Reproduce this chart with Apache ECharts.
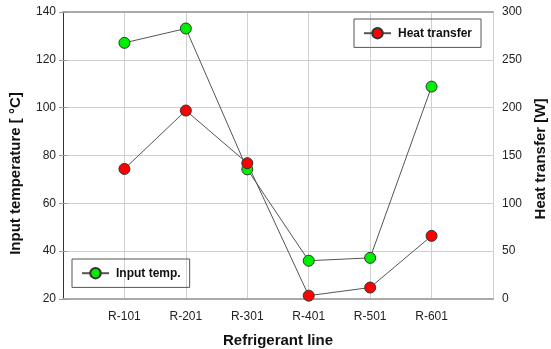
<!DOCTYPE html>
<html>
<head>
<meta charset="utf-8">
<script src="https://cdn.jsdelivr.net/npm/echarts@6/dist/echarts.min.js"></script>
<style>
  html, body { margin: 0; padding: 0; background: #fff; }
  #main { width: 551px; height: 349px; }
</style>
</head>
<body>
<div id="main"></div>
<script>
// refrigerant lines
var categories = ['R-101', 'R-201', 'R-301', 'R-401', 'R-501', 'R-601'];
// input temperature [°C], left axis
var inputTemp = [127.1, 133.1, 74.2, 36.0, 37.2, 108.8];
// heat transfer [W], right axis
var heatTransfer = [136, 197, 142, 3.5, 12, 66];

var font = 'Arial, "Liberation Sans", sans-serif';

function toPoints(vals) {
    var out = [];
    for (var i = 0; i < vals.length; i++) {
        out.push([i + 1, vals[i]]);
    }
    return out;
}

var chart = echarts.init(document.getElementById('main'));

var option = {
    animation: false,
    backgroundColor: '#fff',
    textStyle: { fontFamily: font },
    grid: { left: 63, right: 58, top: 12, bottom: 50, containLabel: false, outerBoundsMode: 'none' },
    legend: [{
        data: ['Heat transfer'],
        left: 354, top: 19,
        padding: [8, 9, 8, 9],
        borderColor: '#555', borderWidth: 1,
        itemWidth: 27, itemHeight: 13,
        textStyle: { fontFamily: font, fontSize: 12, fontWeight: 'bold', color: '#111', padding: [0, 0, 0, 2] }
    }, {
        data: ['Input temp.'],
        left: 72, top: 259,
        padding: [8, 9, 8, 9],
        borderColor: '#555', borderWidth: 1,
        itemWidth: 27, itemHeight: 13,
        textStyle: { fontFamily: font, fontSize: 12, fontWeight: 'bold', color: '#111', padding: [0, 0, 0, 2] }
    }],
    xAxis: [{
        type: 'value',
        min: 0, max: 7, interval: 1,
        position: 'bottom',
        name: 'Refrigerant line',
        nameLocation: 'middle',
        nameGap: 34,
        nameTextStyle: { fontFamily: font, fontSize: 15, fontWeight: 'bold', color: '#111' },
        axisLine: { lineStyle: { color: '#aaa', width: 2 } },
        axisTick: { show: false },
        axisLabel: {
            margin: 12, fontSize: 12, color: '#222', fontFamily: font,
            formatter: function (v) { return categories[v - 1] || ''; }
        },
        splitLine: { show: true, lineStyle: { color: '#d0d0d0', width: 1 } }
    }, {
        type: 'value',
        min: 0, max: 7, interval: 1,
        position: 'top',
        axisLine: { show: true, lineStyle: { color: '#aaa', width: 2 } },
        axisTick: { show: false },
        axisLabel: { show: false },
        splitLine: { show: false }
    }],
    yAxis: [{
        type: 'value',
        min: 20, max: 140, interval: 20,
        position: 'left',
        name: 'Input temperature [ °C]',
        nameLocation: 'middle',
        nameRotate: 90,
        nameGap: 40,
        nameTextStyle: { fontFamily: font, fontSize: 15, fontWeight: 'bold', color: '#111', padding: [0, 36, 0, 0] },
        axisLine: { show: true, lineStyle: { color: '#333', width: 1 } },
        axisTick: { show: true, length: 4, lineStyle: { color: '#999' } },
        axisLabel: { margin: 7, fontSize: 12, color: '#222', fontFamily: font },
        splitLine: { show: true, lineStyle: { color: '#d0d0d0', width: 1 } }
    }, {
        type: 'value',
        min: 0, max: 300, interval: 50,
        position: 'right',
        name: 'Heat transfer [W]',
        nameLocation: 'middle',
        nameRotate: 90,
        nameGap: 40,
        nameTextStyle: { fontFamily: font, fontSize: 15, fontWeight: 'bold', color: '#111', padding: [0, 7, 0, 0] },
        axisLine: { show: true, lineStyle: { color: '#333', width: 1 } },
        axisTick: { show: true, length: 4, lineStyle: { color: '#999' } },
        axisLabel: { margin: 9, fontSize: 12, color: '#222', fontFamily: font },
        splitLine: { show: false }
    }],
    series: [{
        name: 'Input temp.',
        type: 'line',
        xAxisIndex: 0,
        yAxisIndex: 0,
        data: toPoints(inputTemp),
        symbol: 'circle',
        symbolSize: 11,
        lineStyle: { color: '#555', width: 1 },
        itemStyle: { color: '#00ee00', borderColor: '#333', borderWidth: 1 }
    }, {
        name: 'Heat transfer',
        type: 'line',
        xAxisIndex: 0,
        yAxisIndex: 1,
        data: toPoints(heatTransfer),
        symbol: 'circle',
        symbolSize: 11,
        lineStyle: { color: '#555', width: 1 },
        itemStyle: { color: '#ff0000', borderColor: '#333', borderWidth: 1 }
    }]
};

chart.setOption(option);
</script>
</body>
</html>
